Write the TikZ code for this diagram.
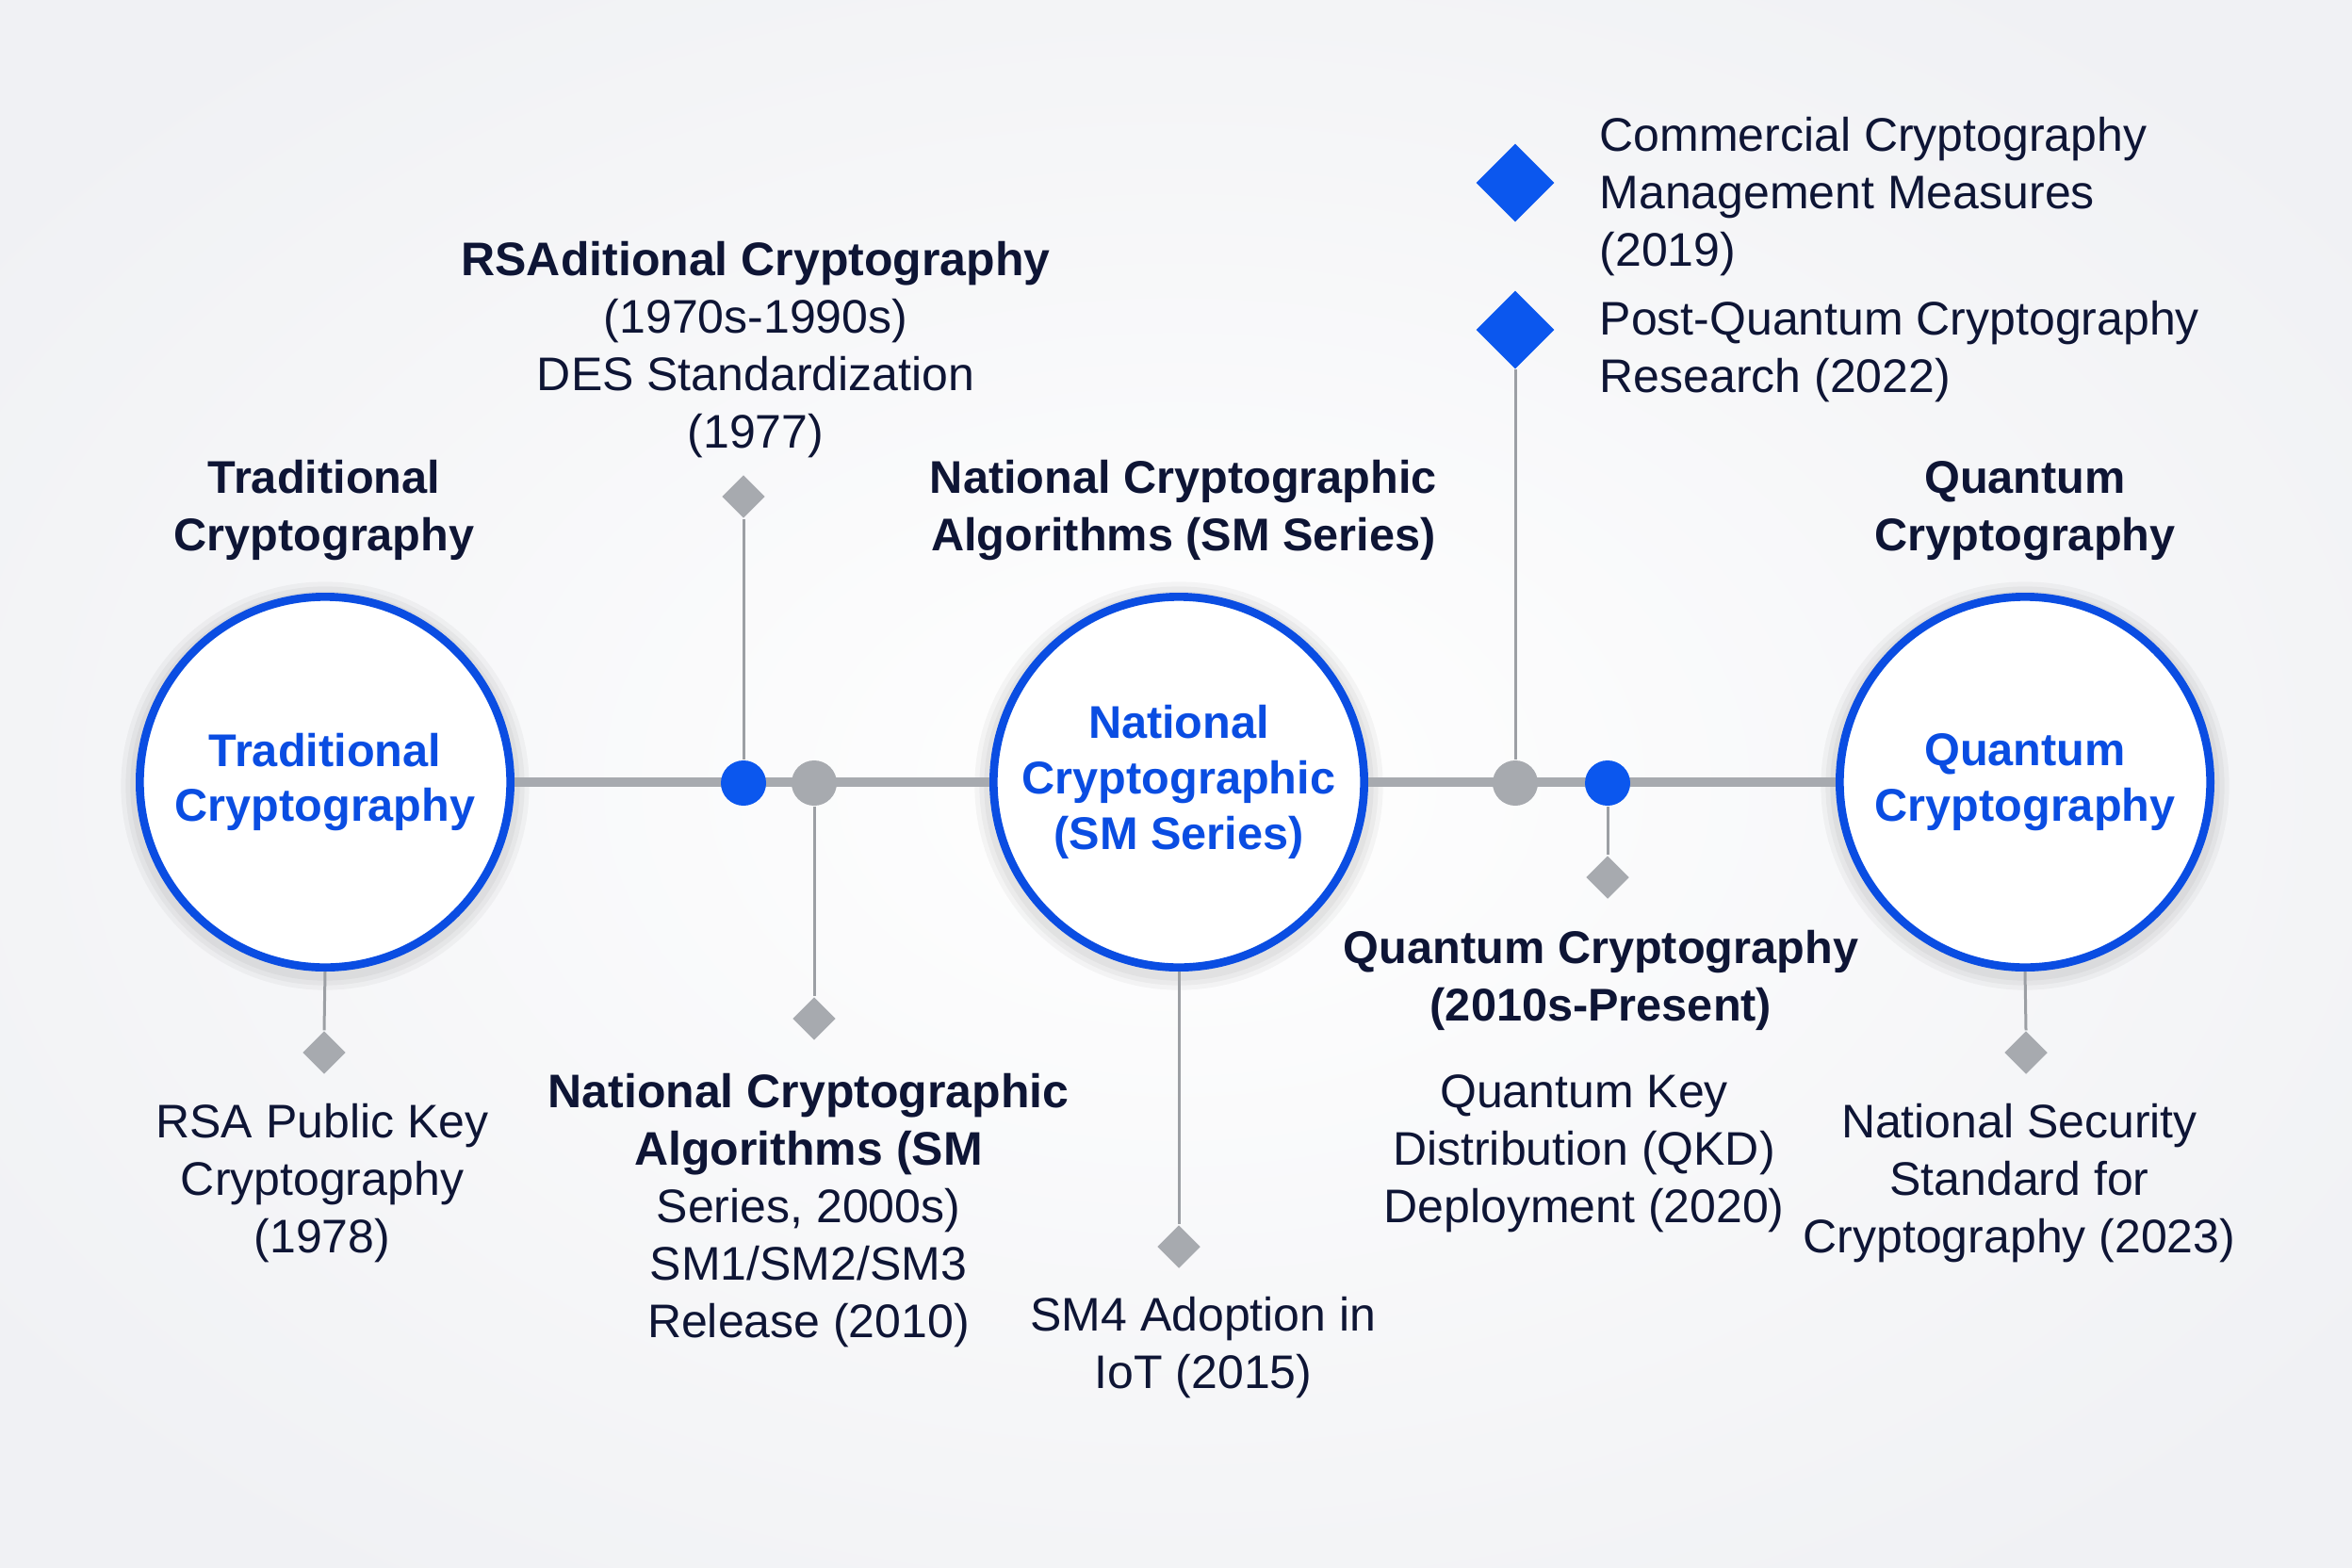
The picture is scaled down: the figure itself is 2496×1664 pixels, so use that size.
\documentclass[tikz,border=0pt]{standalone}
\usepackage{fontspec}
\setmainfont{Liberation Sans}
\usetikzlibrary{shapes.geometric}
\definecolor{navy}{HTML}{0E1535}
\definecolor{cblue}{HTML}{0A4DE2}
\definecolor{dblue}{HTML}{0B57EE}
\definecolor{tgray}{HTML}{A7AAAF}
\definecolor{sgray}{HTML}{9C9FA4}
\definecolor{bgedge}{HTML}{F0F1F4}
\tikzset{
  era/.style={circle, draw=cblue, line width=2.6pt, fill=white, minimum size=118pt, inner sep=0pt,
    text=cblue, font=\fontsize{14.6}{17.6}\selectfont\bfseries, align=center},
  glow/.style={circle, fill=black, opacity=0.035, inner sep=0pt},
  bluedot/.style={circle, fill=dblue, minimum size=14.4pt, inner sep=0pt},
  graydot/.style={circle, fill=tgray, minimum size=14.4pt, inner sep=0pt},
  smalldia/.style={diamond, fill=tgray, minimum width=13.8pt, minimum height=13.8pt, inner sep=0pt, aspect=1},
  bigdia/.style={diamond, fill=dblue, minimum width=25pt, minimum height=25pt, inner sep=0pt, aspect=1},
  axis/.style={draw=tgray, line width=3pt},
  stem/.style={draw=sgray, line width=0.9pt},
  head/.style={text=navy, font=\fontsize{14.6}{18.3}\selectfont\bfseries, align=center, inner sep=0pt},
  body/.style={text=navy, font=\fontsize{15}{18.3}\selectfont, align=center, inner sep=0pt},
}
\begin{document}
\begin{tikzpicture}[x=0.3pt, y=-0.3pt]
\useasboundingbox (0,0) rectangle (2496,1664);
\shade[inner color=white, outer color=bgedge] (-300,-200) rectangle (2796,1864);

% soft glow behind circles
\foreach \cx in {345,1251,2149}{
  \foreach \s in {124,127,130}{
    \node[glow, minimum size=\s pt] (g\cx\s) at (\cx,834) {};
  }
}

% era circles
\node[era] (trad) at (345,830) {Traditional\\Cryptography};
\node[era] (nat) at (1251,830) {National\\Cryptographic\\(SM Series)};
\node[era] (quant) at (2149,830) {Quantum\\Cryptography};

% timeline
\draw[axis] (trad.east) -- (nat.west);
\draw[axis] (nat.east) -- (quant.west);

% dots
\node[bluedot] (d1) at (789,831) {};
\node[graydot] (d2) at (864,831) {};
\node[graydot] (d3) at (1608,831) {};
\node[bluedot] (d4) at (1706,831) {};

% diamonds
\node[smalldia] (m1) at (789,527) {};
\node[smalldia] (m2) at (864,1081) {};
\node[smalldia] (m0) at (344,1117) {};
\node[smalldia] (mn) at (1251,1323) {};
\node[smalldia] (m4) at (1706,931) {};
\node[smalldia] (mq) at (2150,1117) {};
\node[bigdia] (b1) at (1608,194) {};
\node[bigdia] (b2) at (1608,350) {};

% stems
\draw[stem] (m1.south) -- (d1.north);
\draw[stem] (d2.south) -- (m2.north);
\draw[stem] (trad.south) -- (m0.north);
\draw[stem] (nat.south) -- (mn.north);
\draw[stem] (d4.south) -- (m4.north);
\draw[stem] (quant.south) -- (mq.north);
\draw[stem] (b2.south) -- (d3.north);

% texts
\node[head] (t1) at (344,542) {Traditional\\Cryptography};
\node[head] (t3) at (1256,542) {National Cryptographic\\Algorithms (SM Series)};
\node[head] (t4) at (2149,542) {Quantum\\Cryptography};
\node[body] (t2) at (802,371) {\bfseries RSAditional Cryptography\\(1970s-1990s)\\DES Standardization\\(1977)};
\node[body, align=left, anchor=west] (t5) at (1697,209) {Commercial Cryptography\\Management Measures\\(2019)};
\node[body, align=left, anchor=west] (t6) at (1697,373) {Post-Quantum Cryptography\\Research (2022)};
\node[body] (t7) at (342,1256) {RSA Public Key\\Cryptography\\(1978)};
\node[body] (t8) at (858,1285) {\bfseries National Cryptographic\\\bfseries Algorithms (SM\\Series, 2000s)\\SM1/SM2/SM3\\Release (2010)};
\node[body] (t9) at (1277,1430) {SM4 Adoption in\\IoT (2015)};
\node[head] (t10) at (1699,1040) {Quantum Cryptography\\(2010s-Present)};
\node[body] (t11) at (1681,1224) {Quantum Key\\Distribution (QKD)\\Deployment (2020)};
\node[body] (t12) at (2143,1256) {National Security\\Standard for\\Cryptography (2023)};
\end{tikzpicture}
\end{document}
